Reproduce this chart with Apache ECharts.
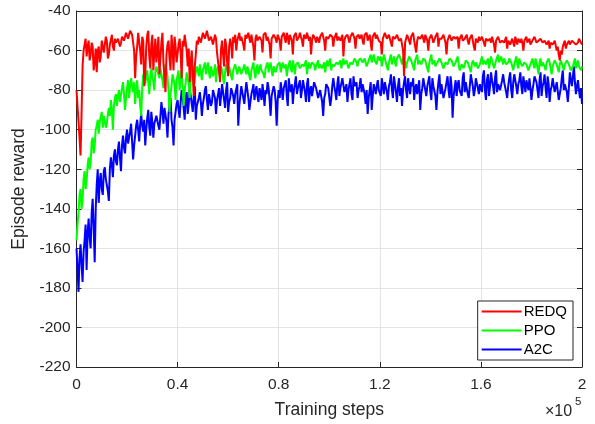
<!DOCTYPE html>
<html>
<head>
<meta charset="utf-8">
<script src="https://cdn.jsdelivr.net/npm/echarts@6/dist/echarts.min.js"></script>
<style>
html,body{margin:0;padding:0;background:#fff;}
#chart{width:595px;height:424px;}
</style>
</head>
<body>
<div id="chart"></div>
<script>
// Training steps in units of 1e5, one sample every 0.004
const stepCount = 501;
const stepSize = 0.004;
const seriesNames = ['REDQ', 'PPO', 'A2C'];
const xTickLabels = ['0', '0.4', '0.8', '1.2', '1.6', '2'];
const yTickLabels = ['-220', '-200', '-180', '-160', '-140', '-120', '-100', '-80', '-60', '-40'];

const redq = [
  -80, -88, -96, -104, -113, -92, -68, -60, -57, -54, -63, -58, -55, -65, -62, -56, -58, -70, -66, -59,
  -71, -60, -58, -66, -63, -55, -56, -61, -60, -53, -55, -64, -62, -57, -56, -52, -58, -60, -54, -56,
  -57, -54, -53, -58, -56, -53, -52, -55, -55, -51, -51, -54, -53, -50, -50, -52, -52, -60, -74, -63,
  -58, -51, -52, -60, -67, -53, -55, -78, -72, -58, -52, -50, -63, -69, -57, -52, -70, -61, -54, -66,
  -60, -53, -72, -64, -56, -51, -66, -74, -81, -62, -57, -55, -64, -70, -52, -59, -70, -53, -58, -66,
  -65, -57, -54, -61, -74, -55, -58, -52, -51, -60, -68, -59, -76, -66, -60, -71, -83, -68, -62, -55,
  -57, -53, -52, -56, -55, -51, -50, -54, -53, -50, -51, -55, -56, -53, -52, -57, -58, -52, -54, -61,
  -62, -70, -76, -59, -55, -62, -68, -54, -57, -66, -73, -58, -54, -57, -64, -53, -56, -52, -60, -55,
  -53, -51, -55, -53, -52, -57, -60, -52, -54, -53, -51, -54, -56, -52, -53, -58, -65, -54, -52, -55,
  -54, -53, -52, -55, -61, -52, -53, -51, -55, -53, -52, -57, -64, -54, -53, -52, -51, -54, -56, -52,
  -53, -55, -60, -53, -52, -51, -54, -56, -51, -53, -57, -52, -53, -55, -62, -53, -52, -51, -55, -54,
  -53, -51, -52, -55, -58, -52, -53, -54, -51, -52, -55, -53, -62, -55, -52, -51, -54, -56, -53, -52,
  -56, -53, -52, -51, -53, -55, -60, -53, -52, -54, -54, -52, -51, -53, -58, -54, -53, -51, -55, -53,
  -52, -55, -54, -52, -63, -55, -53, -52, -52, -54, -56, -53, -53, -51, -51, -54, -59, -53, -53, -52,
  -54, -53, -52, -55, -57, -52, -53, -51, -55, -54, -52, -56, -60, -53, -53, -51, -54, -52, -52, -55,
  -54, -56, -62, -54, -53, -51, -52, -54, -55, -52, -53, -56, -58, -53, -52, -54, -54, -52, -53, -55,
  -56, -54, -53, -60, -73, -56, -54, -52, -52, -55, -57, -53, -53, -51, -55, -54, -61, -55, -53, -52,
  -54, -53, -52, -54, -56, -52, -53, -55, -60, -54, -54, -52, -52, -56, -55, -53, -53, -51, -58, -54,
  -53, -54, -55, -52, -52, -56, -62, -55, -54, -52, -53, -55, -56, -53, -52, -54, -54, -53, -59, -54,
  -53, -52, -55, -54, -54, -53, -52, -55, -57, -54, -53, -52, -55, -58, -60, -54, -54, -56, -53, -55,
  -55, -53, -54, -56, -58, -54, -53, -55, -55, -54, -56, -53, -54, -57, -61, -55, -55, -53, -54, -56,
  -56, -55, -54, -56, -55, -53, -59, -55, -54, -57, -56, -54, -55, -58, -53, -55, -57, -54, -55, -56,
  -54, -56, -60, -55, -55, -53, -56, -55, -54, -57, -58, -55, -55, -53, -54, -56, -57, -55, -56, -54,
  -55, -56, -57, -55, -54, -57, -56, -55, -59, -56, -55, -57, -57, -55, -56, -60, -58, -62, -65, -60,
  -62, -58, -57, -55, -59, -57, -56, -55, -57, -58, -55, -56, -56, -55, -57, -56, -56, -54, -55, -56,
  -57
];

const ppo = [
  -156, -148, -142, -133, -130, -140, -136, -125, -121, -130, -126, -118, -114, -120, -117, -106, -104, -112, -108, -100,
  -98, -95, -102, -96, -95, -91, -99, -93, -94, -99, -97, -92, -89, -93, -85, -90, -100, -88, -84, -82,
  -88, -83, -80, -86, -85, -79, -76, -82, -90, -84, -79, -75, -84, -78, -74, -78, -81, -76, -87, -80,
  -75, -84, -80, -88, -93, -79, -72, -75, -77, -73, -70, -76, -82, -74, -69, -73, -76, -80, -71, -68,
  -68, -72, -74, -69, -70, -75, -79, -71, -67, -70, -73, -80, -91, -82, -78, -72, -71, -77, -85, -75,
  -74, -70, -80, -74, -70, -79, -88, -80, -76, -71, -72, -77, -84, -75, -69, -72, -78, -74, -73, -68,
  -70, -73, -67, -71, -75, -70, -68, -66, -72, -69, -66, -71, -74, -68, -69, -73, -71, -67, -76, -70,
  -68, -71, -73, -68, -70, -74, -77, -71, -67, -69, -72, -68, -69, -73, -75, -70, -70, -67, -68, -72,
  -71, -68, -69, -72, -73, -69, -67, -70, -72, -68, -70, -73, -75, -70, -68, -66, -71, -74, -69, -67,
  -72, -69, -67, -70, -70, -72, -74, -69, -68, -66, -71, -68, -66, -70, -73, -68, -69, -71, -70, -67,
  -68, -66, -71, -68, -66, -69, -70, -67, -73, -69, -67, -65, -69, -71, -65, -68, -72, -67, -68, -66,
  -67, -69, -70, -67, -66, -68, -69, -65, -72, -68, -66, -69, -68, -66, -65, -67, -70, -68, -67, -65,
  -69, -67, -66, -69, -68, -66, -71, -67, -65, -68, -67, -64, -70, -67, -66, -68, -68, -66, -65, -67,
  -67, -65, -69, -66, -64, -67, -68, -65, -66, -69, -70, -66, -65, -67, -67, -64, -64, -66, -68, -65,
  -66, -64, -63, -66, -67, -64, -65, -68, -69, -65, -64, -62, -66, -64, -62, -65, -65, -67, -63, -64,
  -65, -63, -68, -65, -62, -64, -66, -68, -70, -66, -64, -62, -67, -65, -63, -66, -68, -64, -65, -62,
  -63, -65, -67, -64, -64, -66, -69, -66, -65, -63, -62, -65, -66, -68, -70, -65, -64, -62, -67, -65,
  -65, -67, -68, -64, -63, -65, -66, -69, -71, -66, -64, -62, -67, -66, -65, -68, -69, -66, -66, -64,
  -64, -66, -67, -69, -70, -66, -65, -67, -68, -64, -63, -65, -66, -68, -69, -66, -65, -63, -67, -70,
  -70, -67, -66, -69, -68, -65, -64, -66, -67, -69, -71, -67, -65, -64, -68, -66, -66, -69, -69, -67,
  -65, -63, -67, -65, -64, -67, -66, -64, -69, -66, -63, -65, -66, -69, -68, -65, -64, -62, -66, -67,
  -63, -65, -67, -64, -65, -67, -68, -66, -64, -63, -66, -68, -70, -67, -65, -63, -67, -69, -64, -66,
  -66, -68, -69, -66, -65, -67, -68, -70, -71, -67, -66, -64, -67, -69, -64, -66, -69, -72, -66, -64,
  -68, -66, -65, -68, -70, -66, -67, -64, -66, -69, -72, -68, -68, -65, -65, -67, -69, -71, -67, -65,
  -66, -68, -70, -67, -68, -65, -65, -67, -67, -70, -71, -68, -66, -64, -69, -67, -65, -68, -67, -70,
  -68
];

const a2c = [
  -160, -170, -182, -165, -158, -168, -177, -162, -156, -148, -171, -152, -145, -155, -160, -142, -135, -150, -167, -140,
  -128, -120, -137, -126, -122, -130, -133, -121, -119, -125, -126, -131, -136, -120, -114, -118, -124, -113, -110, -116,
  -118, -110, -106, -114, -121, -108, -103, -109, -112, -104, -100, -107, -108, -101, -97, -106, -115, -108, -103, -98,
  -95, -100, -106, -97, -92, -98, -101, -95, -108, -100, -94, -90, -99, -103, -91, -96, -104, -97, -96, -93,
  -92, -98, -100, -93, -86, -91, -97, -89, -90, -96, -104, -92, -88, -84, -95, -99, -108, -95, -91, -87,
  -85, -90, -94, -86, -80, -84, -89, -95, -84, -81, -92, -87, -79, -83, -87, -91, -83, -78, -95, -88,
  -88, -84, -81, -86, -93, -87, -84, -80, -78, -85, -90, -82, -83, -88, -86, -80, -79, -84, -92, -85,
  -82, -79, -88, -83, -77, -81, -85, -89, -80, -76, -91, -86, -84, -79, -78, -83, -87, -82, -81, -77,
  -98, -88, -83, -78, -79, -84, -87, -81, -76, -80, -84, -90, -89, -82, -80, -77, -85, -81, -78, -83,
  -86, -79, -81, -85, -77, -82, -88, -80, -82, -76, -79, -85, -93, -83, -84, -78, -80, -86, -98, -85,
  -80, -84, -76, -80, -85, -79, -78, -75, -83, -88, -74, -79, -81, -77, -87, -80, -77, -73, -82, -79,
  -79, -75, -84, -80, -75, -78, -81, -86, -77, -74, -86, -80, -78, -83, -82, -76, -75, -79, -80, -84,
  -85, -80, -79, -86, -93, -84, -82, -77, -76, -79, -80, -88, -84, -78, -74, -78, -81, -85, -77, -73,
  -83, -79, -78, -74, -75, -81, -80, -77, -86, -80, -77, -74, -82, -85, -73, -78, -79, -76, -84, -80,
  -78, -74, -81, -77, -76, -82, -87, -80, -92, -84, -80, -76, -90, -83, -77, -79, -82, -78, -75, -80,
  -79, -83, -74, -78, -82, -76, -77, -81, -85, -78, -76, -72, -80, -84, -73, -77, -81, -86, -78, -74,
  -83, -79, -88, -80, -76, -73, -80, -84, -74, -78, -82, -76, -78, -74, -85, -79, -77, -82, -81, -75,
  -90, -82, -79, -74, -75, -80, -83, -78, -77, -73, -81, -85, -74, -78, -79, -83, -90, -81, -76, -72,
  -82, -77, -78, -84, -85, -79, -76, -73, -80, -84, -73, -78, -94, -83, -79, -75, -83, -77, -75, -80,
  -79, -83, -74, -71, -81, -76, -77, -82, -84, -78, -72, -75, -78, -83, -80, -74, -75, -79, -82, -77,
  -77, -81, -73, -70, -80, -85, -75, -72, -83, -78, -71, -75, -78, -82, -74, -70, -81, -77, -76, -80,
  -79, -75, -72, -76, -77, -81, -84, -78, -74, -71, -80, -84, -76, -72, -73, -78, -82, -77, -75, -71,
  -78, -82, -73, -77, -81, -75, -76, -80, -74, -79, -85, -80, -77, -73, -72, -76, -80, -84, -75, -71,
  -83, -78, -76, -72, -79, -84, -73, -77, -86, -80, -78, -74, -75, -81, -82, -76, -77, -85, -84, -79,
  -74, -70, -80, -77, -76, -81, -86, -79, -71, -75, -78, -73, -68, -76, -82, -78, -75, -80, -84, -79,
  -87
];

const steps = Array.from({length: stepCount}, (_, i) => +(i * stepSize).toFixed(3));
const pairs = arr => arr.map((v, i) => [steps[i], v]);

const axisColor = '#262626';
const gridColor = '#e3e3e3';
const font = 'Liberation Sans, Arial, Helvetica, sans-serif';

const chart = echarts.init(document.getElementById('chart'), null, {renderer: 'canvas'});

const xLab = v => {
  const k = Math.round(v / 0.4);
  return xTickLabels[k] !== undefined ? xTickLabels[k] : '';
};
const yLab = v => {
  const k = Math.round((v + 220) / 20);
  return yTickLabels[k] !== undefined ? yTickLabels[k] : '';
};

const lineSeries = (name, data, color, z) => ({
  name, type: 'line', data: pairs(data), showSymbol: false, symbol: 'none',
  lineStyle: {color, width: 2}, itemStyle: {color}, z, animation: false,
  xAxisIndex: 0, yAxisIndex: 0
});

chart.setOption({
  animation: false,
  backgroundColor: '#ffffff',
  grid: {left: 76.5, right: 13, top: 11, bottom: 55, containLabel: false},
  xAxis: [
    {
      type: 'value', min: 0, max: 2, interval: 0.4, position: 'bottom',
      name: 'Training steps', nameLocation: 'middle', nameGap: 34,
      nameTextStyle: {fontFamily: font, fontSize: 17.5, color: axisColor},
      axisLine: {show: true, onZero: false, lineStyle: {color: axisColor, width: 1}},
      axisTick: {show: true, inside: true, length: 5, lineStyle: {color: axisColor}},
      axisLabel: {formatter: xLab, fontFamily: font, fontSize: 15.5, color: axisColor, margin: 10},
      splitLine: {show: true, lineStyle: {color: gridColor, width: 1}}
    },
    {
      type: 'value', min: 0, max: 2, interval: 0.4, position: 'top',
      axisLine: {show: true, onZero: false, lineStyle: {color: axisColor, width: 1}},
      axisTick: {show: true, inside: true, length: 5, lineStyle: {color: axisColor}},
      axisLabel: {show: false}, splitLine: {show: false}
    }
  ],
  yAxis: [
    {
      type: 'value', min: -220, max: -40, interval: 20, position: 'left',
      name: 'Episode reward', nameLocation: 'middle', nameGap: 41, nameRotate: 90,
      nameTextStyle: {fontFamily: font, fontSize: 17.5, color: axisColor},
      axisLine: {show: true, onZero: false, lineStyle: {color: axisColor, width: 1}},
      axisTick: {show: true, inside: true, length: 5, lineStyle: {color: axisColor}},
      axisLabel: {formatter: yLab, fontFamily: font, fontSize: 15.5, color: axisColor, margin: 6},
      splitLine: {show: true, lineStyle: {color: gridColor, width: 1}}
    },
    {
      type: 'value', min: -220, max: -40, interval: 20, position: 'right',
      axisLine: {show: true, onZero: false, lineStyle: {color: axisColor, width: 1}},
      axisTick: {show: true, inside: true, length: 5, lineStyle: {color: axisColor}},
      axisLabel: {show: false}, splitLine: {show: false}
    }
  ],
  legend: {
    data: seriesNames,
    orient: 'vertical',
    right: 22, top: 301,
    backgroundColor: '#ffffff',
    borderColor: axisColor, borderWidth: 1, borderRadius: 0,
    padding: [3, 6, 3, 4],
    itemGap: 4,
    itemWidth: 40, itemHeight: 2, icon: 'rect',
    textStyle: {fontFamily: font, fontSize: 15, color: '#000', padding: [0, 0, 0, -3]}
  },
  graphic: [
    {type: 'text', left: 545, top: 404, z: 10,
     style: {text: '×10', fontFamily: font, fontSize: 16, fill: axisColor}},
    {type: 'text', left: 575, top: 396, z: 10,
     style: {text: '5', fontFamily: font, fontSize: 11.5, fill: axisColor}}
  ],
  series: [
    lineSeries('A2C', a2c, '#0000ff', 2),
    lineSeries('PPO', ppo, '#00ff00', 3),
    lineSeries('REDQ', redq, '#ff0000', 4)
  ]
});
</script>
</body>
</html>
